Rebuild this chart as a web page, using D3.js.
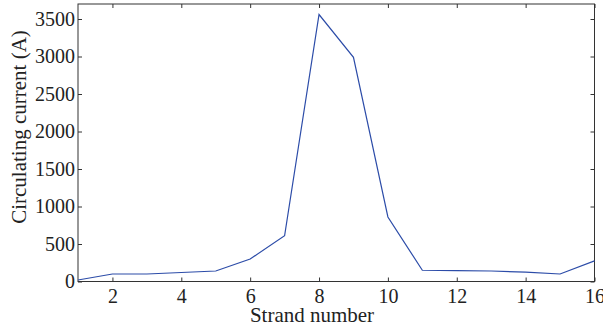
<!DOCTYPE html>
<html>
<head>
<meta charset="utf-8">
<script src="https://cdn.jsdelivr.net/npm/d3@7"></script>
<style>
  body { margin: 0; background: #fff; }
  svg text { font-family: "Liberation Serif", "Times New Roman", serif; fill: #222; }
</style>
</head>
<body>
<svg width="603" height="330"></svg>
<script>
const strands = [1, 2, 3, 4, 5, 6, 7, 8, 9, 10, 11, 12, 13, 14, 15, 16];
const current = [20, 100, 100, 120, 140, 300, 610, 3560, 2990, 860, 150, 145, 140, 125, 100, 275];
const xTicks = [2, 4, 6, 8, 10, 12, 14, 16];
const yTicks = [0, 500, 1000, 1500, 2000, 2500, 3000, 3500];

const svg = d3.select("svg");
const m = { left: 78, right: 594.5, top: 4, bottom: 281.5 };

const x = d3.scaleLinear().domain([1, 16]).range([m.left, m.right]);
const y = d3.scaleLinear().domain([0, 3700]).range([m.bottom, m.top]);

// frame
svg.append("rect")
  .attr("x", m.left).attr("y", m.top)
  .attr("width", m.right - m.left).attr("height", m.bottom - m.top)
  .attr("fill", "none").attr("stroke", "#333").attr("stroke-width", 1);

// inward ticks on all four sides, no domain lines
const tick = 4;
const addAxis = (ax, tr) => {
  const g = svg.append("g").attr("transform", tr).call(ax);
  g.select(".domain").remove();
  g.selectAll("line").attr("stroke", "#333");
  g.selectAll("text")
    .style("font-family", "'Liberation Serif', 'Times New Roman', serif")
    .style("font-size", "20px")
    .attr("fill", "#222");
  return g;
};

addAxis(d3.axisBottom(x).tickValues(xTicks).tickSize(-tick).tickFormat(d3.format("d")),
  `translate(0,${m.bottom})`)
  .selectAll("text").attr("y", 7).attr("dy", "0.71em");
addAxis(d3.axisTop(x).tickValues(xTicks).tickSize(-tick).tickFormat(""), `translate(0,${m.top})`);
addAxis(d3.axisLeft(y).tickValues(yTicks).tickSize(-tick).tickFormat(d3.format("d")),
  `translate(${m.left},0)`)
  .selectAll("text").attr("x", -3);
addAxis(d3.axisRight(y).tickValues(yTicks).tickSize(-tick).tickFormat(""), `translate(${m.right},0)`);

// data line
const line = d3.line().x((d, i) => x(strands[i])).y(d => y(d));
svg.append("path")
  .datum(current)
  .attr("d", line)
  .attr("fill", "none")
  .attr("stroke", "#2c4ca8")
  .attr("stroke-width", 1.2);

// labels
svg.append("text")
  .attr("x", 312).attr("y", 322)
  .attr("text-anchor", "middle")
  .attr("font-size", 21)
  .text("Strand number");

svg.append("text")
  .attr("transform", "translate(26,127) rotate(-90)")
  .attr("text-anchor", "middle")
  .attr("font-size", 21)
  .text("Circulating current (A)");
</script>
</body>
</html>
